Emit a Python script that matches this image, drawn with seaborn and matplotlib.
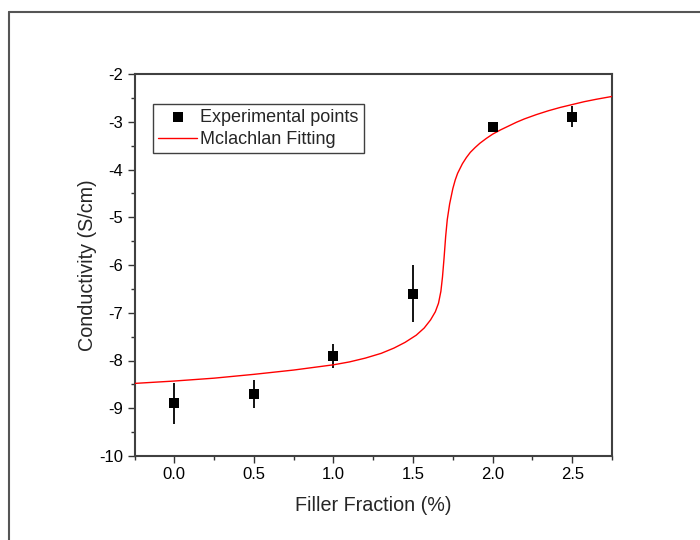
import matplotlib
matplotlib.use("Agg")
import matplotlib.pyplot as plt
from matplotlib.lines import Line2D
from matplotlib.ticker import MultipleLocator
import seaborn as sns
import pandas as pd

# Experimental data
exp_x = [0.0, 0.5, 1.0, 1.5, 2.0, 2.5]
exp_y = [-8.9, -8.7, -7.9, -6.6, -3.1, -2.9]
exp_err = [0.42, 0.30, 0.25, 0.60, 0.10, 0.22]

# Mclachlan fitting curve
fit_x = [-0.25, 0.0, 0.25, 0.5, 0.75, 1.0, 1.1, 1.2, 1.3, 1.38, 1.45, 1.52,
         1.57, 1.61, 1.64, 1.66, 1.675, 1.685, 1.695, 1.705, 1.715, 1.73,
         1.75, 1.765, 1.78, 1.81, 1.835, 1.86, 1.89, 1.92, 1.96, 2.0, 2.05,
         2.1, 2.15, 2.2, 2.275, 2.35, 2.425, 2.5, 2.575, 2.65, 2.75]
fit_y = [-8.48, -8.43, -8.37, -8.29, -8.20, -8.09, -8.03, -7.95, -7.85,
         -7.74, -7.62, -7.47, -7.32, -7.15, -6.98, -6.80, -6.55, -6.25,
         -5.85, -5.40, -5.05, -4.72, -4.40, -4.22, -4.08, -3.88, -3.75,
         -3.64, -3.54, -3.45, -3.35, -3.26, -3.17, -3.09, -3.01, -2.94,
         -2.85, -2.77, -2.70, -2.64, -2.58, -2.53, -2.47]

x_ticks = [0.0, 0.5, 1.0, 1.5, 2.0, 2.5]
y_ticks = [-10, -9, -8, -7, -6, -5, -4, -3, -2]

sns.set_style("white")
plt.rcParams['font.family'] = ['Liberation Sans', 'DejaVu Sans']

fig = plt.figure(figsize=(7, 5.4), dpi=100)
ax = fig.add_axes([134.5 / 700, 1 - 456 / 540, (612 - 134.5) / 700, (456 - 74) / 540])

df_fit = pd.DataFrame({"x": fit_x, "y": fit_y})
df_exp = pd.DataFrame({"x": exp_x, "y": exp_y, "err": exp_err})

ax.errorbar(df_exp["x"], df_exp["y"], yerr=df_exp["err"], fmt="none",
            ecolor="black", elinewidth=1.3, capsize=0, zorder=2)
sns.lineplot(data=df_fit, x="x", y="y", ax=ax, color="red", lw=1.0,
             label="Mclachlan Fitting", zorder=3, sort=False)
sns.scatterplot(data=df_exp, x="x", y="y", ax=ax, marker="s", s=60,
                color="black", edgecolor="black", linewidth=0,
                label="Experimental points", zorder=4)

ax.set_xlim(-0.25, 2.75)
ax.set_ylim(-10, -2)
ax.set_xticks(x_ticks)
ax.set_xticklabels([f"{v:.1f}" for v in x_ticks])
ax.set_yticks(y_ticks)
ax.set_yticklabels([str(v) for v in y_ticks])
ax.xaxis.set_minor_locator(MultipleLocator(0.25))
ax.yaxis.set_minor_locator(MultipleLocator(0.5))
ax.tick_params(which="major", direction="out", length=5, width=1.0,
               color="#333333", labelsize=12, labelcolor="black",
               bottom=True, left=True, top=False, right=False, pad=3)
ax.tick_params(which="minor", direction="out", length=3, width=1.0,
               color="#333333", bottom=True, left=True, top=False, right=False)

for sp in ax.spines.values():
    sp.set_visible(True)
    sp.set_color("#404040")
    sp.set_linewidth(1.5)

ax.set_xlabel("Filler Fraction (%)", fontsize=14.2, labelpad=10)
ax.set_ylabel("Conductivity (S/cm)", fontsize=14.2, labelpad=1.5)

handles, labels = ax.get_legend_handles_labels()
order = [labels.index("Experimental points"), labels.index("Mclachlan Fitting")]
leg = ax.legend([handles[i] for i in order], [labels[i] for i in order],
                loc="upper left", bbox_to_anchor=(0.038, 0.922),
                fontsize=13, frameon=True, fancybox=False,
                edgecolor="#404040", framealpha=1, borderpad=0.28,
                handlelength=2.2, handletextpad=0.15, labelspacing=0.3,
                borderaxespad=0)
leg.get_frame().set_linewidth(1.0)

# outer frame (left and top edges visible)
fig.add_artist(Line2D([9 / 700, 9 / 700], [0, 1 - 12 / 540], color="#555555", lw=1.5))
fig.add_artist(Line2D([9 / 700, 1], [1 - 12 / 540, 1 - 12 / 540], color="#555555", lw=1.5))

fig.savefig("out.png", dpi=100)
